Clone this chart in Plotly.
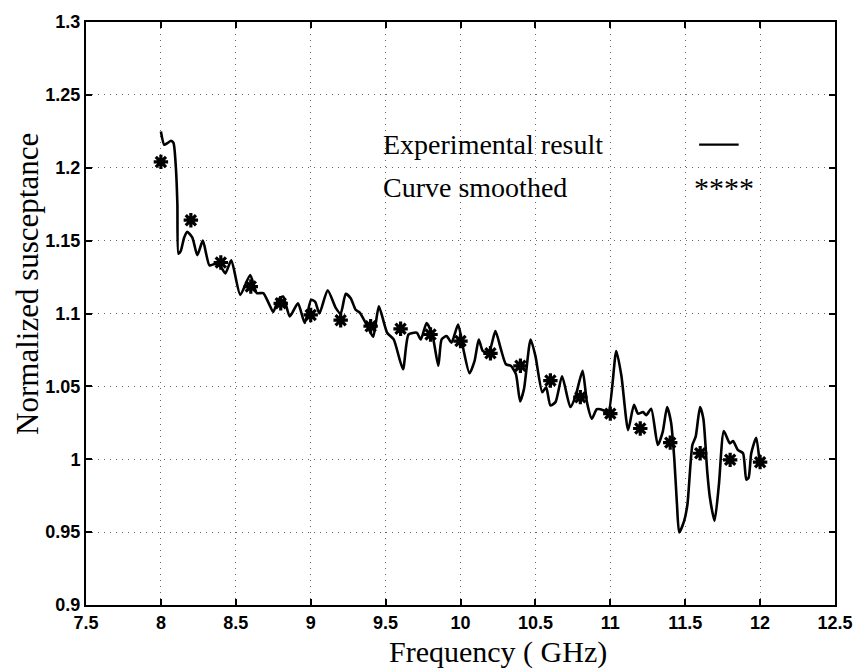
import plotly.graph_objects as go

# Experimental result (frequency GHz, normalized susceptance)
exp_freq = [8.000, 8.022, 8.045, 8.067, 8.084, 8.100, 8.110, 8.117, 8.133, 8.155,
            8.176, 8.210, 8.243, 8.280, 8.324, 8.360, 8.400, 8.430, 8.470, 8.530,
            8.596, 8.640, 8.683, 8.720, 8.750, 8.783, 8.816, 8.860, 8.915, 8.960,
            9.003, 9.030, 9.058, 9.113, 9.168, 9.200, 9.234, 9.267, 9.300, 9.330,
            9.378, 9.417, 9.455, 9.510, 9.554, 9.616, 9.653, 9.708, 9.735, 9.774,
            9.814, 9.852, 9.874, 9.907, 9.940, 9.984, 10.017, 10.060, 10.094, 10.122,
            10.149, 10.190, 10.233, 10.270, 10.303, 10.336, 10.370, 10.398, 10.424, 10.468,
            10.500, 10.546, 10.572, 10.600, 10.634, 10.678, 10.733, 10.766, 10.815, 10.844,
            10.877, 10.910, 10.953, 10.986, 11.040, 11.074, 11.119, 11.158, 11.185, 11.218,
            11.240, 11.273, 11.317, 11.350, 11.379, 11.405, 11.427, 11.445, 11.460, 11.493,
            11.515, 11.548, 11.570, 11.599, 11.621, 11.647, 11.665, 11.696, 11.725, 11.758,
            11.798, 11.820, 11.851, 11.886, 11.908, 11.923, 11.941, 11.974, 11.996]
exp_val = [1.2248, 1.2158, 1.2170, 1.2185, 1.2170, 1.2000, 1.1750, 1.1410, 1.1430, 1.1520,
           1.1560, 1.1520, 1.1400, 1.1500, 1.1330, 1.1340, 1.1320, 1.1275, 1.1365, 1.1128,
           1.1264, 1.1140, 1.1140, 1.1070, 1.1010, 1.1094, 1.1117, 1.0980, 1.1070, 1.0935,
           1.1094, 1.1080, 1.1000, 1.1160, 1.1037, 1.1000, 1.1135, 1.1105, 1.1026, 1.1003,
           1.0913, 1.0840, 1.1049, 1.0868, 1.0822, 1.0618, 1.0856, 1.0868, 1.0822, 1.0935,
           1.0845, 1.0641, 1.0822, 1.0845, 1.0800, 1.0924, 1.0765, 1.0590, 1.0675, 1.0822,
           1.0743, 1.0735, 1.0879, 1.0754, 1.0652, 1.0641, 1.0584, 1.0397, 1.0483, 1.0822,
           1.0709, 1.0460, 1.0494, 1.0370, 1.0392, 1.0569, 1.0358, 1.0426, 1.0607, 1.0392,
           1.0279, 1.0343, 1.0336, 1.0313, 1.0743, 1.0573, 1.0200, 1.0374, 1.0313, 1.0324,
           1.0302, 1.0347, 1.0098, 1.0188, 1.0358, 1.0256, 1.0007, 0.9691, 0.9498, 0.9577,
           0.9691, 1.0098, 1.0155, 1.0358, 1.0279, 0.9917, 0.9736, 0.9577, 0.9826, 1.0193,
           1.0109, 1.0125, 1.0064, 1.0041, 0.9860, 0.9872, 1.0041, 1.0148, 0.9985]

# Smoothed curve (stars)
smooth_freq = [8.0, 8.2, 8.4, 8.6, 8.8, 9.0, 9.2, 9.4, 9.6, 9.8, 10.0,
               10.2, 10.4, 10.6, 10.8, 11.0, 11.2, 11.4, 11.6, 11.8, 12.0]
smooth_val = [1.204, 1.164, 1.135, 1.1185, 1.107, 1.099, 1.0954, 1.0913, 1.0895, 1.0856, 1.0811,
              1.0727, 1.0641, 1.054, 1.0426, 1.0313, 1.0211, 1.0114, 1.0041, 0.9996, 0.998]

x_ticks = [7.5, 8, 8.5, 9, 9.5, 10, 10.5, 11, 11.5, 12, 12.5]
x_tick_labels = ["7.5", "8", "8.5", "9", "9.5", "10", "10.5", "11", "11.5", "12", "12.5"]
y_ticks = [0.9, 0.95, 1.0, 1.05, 1.1, 1.15, 1.2, 1.25, 1.3]
y_tick_labels = ["0.9", "0.95", "1", "1.05", "1.1", "1.15", "1.2", "1.25", "1.3"]

fig = go.Figure()
fig.add_trace(go.Scatter(x=exp_freq, y=exp_val, mode="lines",
                         line=dict(color="black", width=2.6, shape="spline", smoothing=0.6),
                         name="Experimental result", showlegend=False))
fig.add_trace(go.Scatter(x=smooth_freq, y=smooth_val, mode="markers",
                         marker=dict(symbol="asterisk-open", size=12, color="black",
                                     line=dict(color="black", width=3.2)),
                         name="Curve smoothed", showlegend=False))

serif = "Liberation Serif, Times New Roman, serif"
axis_common = dict(showline=True, linecolor="black", linewidth=2, mirror="ticks",
                   ticks="inside", ticklen=6, tickwidth=1.5, tickcolor="black",
                   showgrid=True, gridcolor="#666", griddash="1px,5px", gridwidth=1,
                   zeroline=False,
                   tickfont=dict(family="Liberation Sans, Arial, sans-serif", size=18,
                                 color="black", weight="bold"))

fig.update_xaxes(range=[7.5, 12.5], tickvals=x_ticks, ticktext=x_tick_labels, **axis_common)
fig.update_yaxes(range=[0.9, 1.3], tickvals=y_ticks, ticktext=y_tick_labels, **axis_common)

annotations = [
    dict(text="Frequency ( GHz)", xref="paper", yref="paper", x=0.55, y=-0.081,
         xanchor="center", yanchor="middle", showarrow=False,
         font=dict(family=serif, size=30, color="black")),
    dict(text="Normalized susceptance", xref="paper", yref="paper", x=-0.078, y=0.55,
         xanchor="center", yanchor="middle", textangle=-90, showarrow=False,
         font=dict(family=serif, size=31, color="black")),
    dict(text="Experimental result", xref="x", yref="y", x=9.47, y=1.2158,
         xanchor="left", yanchor="middle", showarrow=False,
         font=dict(family=serif, size=28, color="black")),
    dict(text="Curve smoothed", xref="x", yref="y", x=9.47, y=1.1866,
         xanchor="left", yanchor="middle", showarrow=False,
         font=dict(family=serif, size=28, color="black")),
    dict(text="****", xref="x", yref="y", x=11.758, y=1.1866,
         xanchor="center", yanchor="middle", showarrow=False,
         font=dict(family=serif, size=30, color="black")),
]

fig.update_layout(
    width=865, height=669,
    margin=dict(l=86, r=23, t=16, b=64),
    paper_bgcolor="white", plot_bgcolor="white",
    annotations=annotations,
    shapes=[dict(type="line", xref="x", yref="y", x0=11.593, x1=11.857,
                 y0=1.2158, y1=1.2158, line=dict(color="black", width=2.2))],
)

fig.write_html("out.html")
